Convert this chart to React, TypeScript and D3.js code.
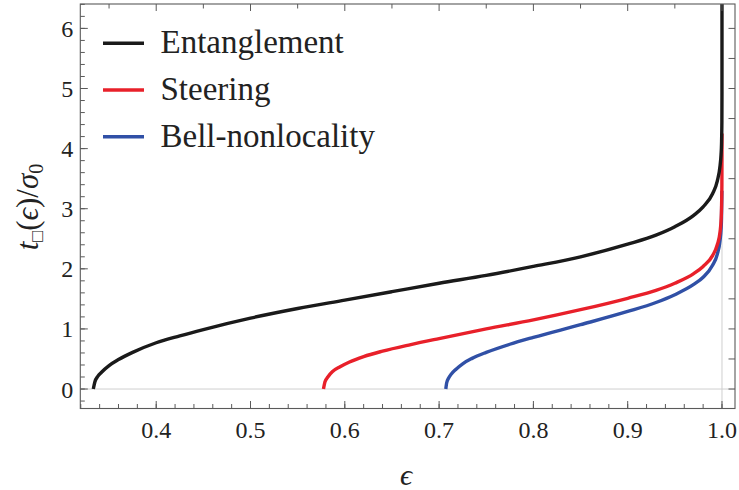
import React, { useEffect, useRef } from 'react';
import * as d3 from 'd3';

// values
const entEps = [0.3333, 0.335, 0.338, 0.342, 0.35, 0.36, 0.375, 0.4, 0.425, 0.45, 0.5, 0.55, 0.6, 0.65, 0.7, 0.75, 0.8, 0.85, 0.9, 0.93, 0.95, 0.97, 0.98, 0.99, 0.995, 0.998, 0.999, 0.9995, 0.9999, 0.99999, 0.999999, 1.0];
const entT = [0, 0.12, 0.21, 0.28, 0.39, 0.49, 0.61, 0.77, 0.885, 0.99, 1.18, 1.34, 1.48, 1.62, 1.76, 1.89, 2.04, 2.2, 2.41, 2.56, 2.7, 2.89, 3.03, 3.25, 3.46, 3.72, 3.9, 4.07, 4.45, 4.94, 5.4, 7.0];

const steerEps = [0.5774, 0.579, 0.582, 0.587, 0.595, 0.605, 0.62, 0.64, 0.67, 0.7, 0.75, 0.8, 0.85, 0.9, 0.93, 0.95, 0.97, 0.98, 0.99, 0.995, 0.998, 0.999, 0.9995, 0.9999, 0.99999, 0.999999];
const steerT = [0, 0.12, 0.2, 0.29, 0.37, 0.45, 0.54, 0.63, 0.74, 0.84, 1.0, 1.15, 1.32, 1.51, 1.64, 1.76, 1.92, 2.04, 2.22, 2.4, 2.62, 2.8, 3.0, 3.4, 3.9, 4.25];

const bellEps = [0.7071, 0.708, 0.71, 0.713, 0.718, 0.725, 0.735, 0.75, 0.775, 0.8, 0.85, 0.9, 0.93, 0.95, 0.97, 0.98, 0.99, 0.995, 0.998, 0.999, 0.9995, 0.9999];
const bellT = [0, 0.1, 0.18, 0.25, 0.33, 0.42, 0.51, 0.61, 0.745, 0.86, 1.07, 1.29, 1.44, 1.57, 1.74, 1.86, 2.06, 2.24, 2.48, 2.65, 2.85, 3.3];

const seriesNames = ['Entanglement', 'Steering', 'Bell-nonlocality'];
const seriesColors = ['#1a1a1a', '#e8202a', '#3050a6'];

const xTickValues = [0.4, 0.5, 0.6, 0.7, 0.8, 0.9, 1.0];
const yTickValues = [0, 1, 2, 3, 4, 5, 6];

const FONT = 'Liberation Serif';
const left = 80.3, right = 735, top = 4, bottom = 408.5;
const axisColor = '#5a5a5a';

const x = d3.scaleLinear().domain([0.3195, 1.0138]).range([left, right]);
const y = d3.scaleLinear().domain([-0.324, 6.406]).range([bottom, top]);

const App = () => {
  const ref = useRef<SVGGElement | null>(null);

  useEffect(() => {
    if (!ref.current) return;
    const g = d3.select(ref.current);
    g.selectAll('*').remove();

    g.append('clipPath').attr('id', 'plotclip')
      .append('rect').attr('x', left).attr('y', top)
      .attr('width', right - left).attr('height', bottom - top);

    // grid lines at t=0 and eps=1
    g.append('line').attr('x1', left).attr('x2', right)
      .attr('y1', y(0)).attr('y2', y(0))
      .attr('stroke', '#cfcfcf').attr('stroke-width', 1);
    g.append('line').attr('x1', x(1)).attr('x2', x(1))
      .attr('y1', top).attr('y2', bottom)
      .attr('stroke', '#cfcfcf').attr('stroke-width', 1);

    const line = d3.line<[number, number]>()
      .x(d => x(d[0])).y(d => y(d[1]))
      .curve(d3.curveMonotoneX);

    const series = [
      { eps: entEps, t: entT, color: seriesColors[0] },
      { eps: steerEps, t: steerT, color: seriesColors[1] },
      { eps: bellEps, t: bellT, color: seriesColors[2] },
    ];

    const curves = g.append('g').attr('clip-path', 'url(#plotclip)');
    // blue under red under black
    [2, 1, 0].forEach(i => {
      const s = series[i];
      const pts = s.eps.map((e, k) => [e, s.t[k]] as [number, number]);
      curves.append('path').attr('d', line(pts))
        .attr('fill', 'none').attr('stroke', s.color)
        .attr('stroke-width', 3.4);
    });

    // ticks, inward on all four sides
    const ticks = g.append('g').attr('stroke', axisColor).attr('stroke-width', 1);
    const vTicks = (vals: number[], y0: number, len: number) =>
      ticks.append('g').selectAll('line').data(vals).enter().append('line')
        .attr('x1', d => x(d)).attr('x2', d => x(d))
        .attr('y1', y0).attr('y2', y0 + len);
    const hTicks = (vals: number[], x0: number, len: number) =>
      ticks.append('g').selectAll('line').data(vals).enter().append('line')
        .attr('y1', d => y(d)).attr('y2', d => y(d))
        .attr('x1', x0).attr('x2', x0 + len);

    vTicks(d3.range(0.32, 1.0101, 0.02), bottom, -4.5);
    vTicks(xTickValues, bottom, -7.5);
    vTicks(d3.range(0.35, 1.0101, 0.1), top, 4.5);
    vTicks(xTickValues, top, 7);
    hTicks(d3.range(-0.2, 6.41, 0.2), left, 4.5);
    hTicks(yTickValues, left, 7.5);
    hTicks(d3.range(0, 6.01, 0.5), right, -6.5);

    g.append('rect').attr('x', left).attr('y', top)
      .attr('width', right - left).attr('height', bottom - top)
      .attr('fill', 'none').attr('stroke', axisColor).attr('stroke-width', 1.1);

    // legend keys
    seriesColors.forEach((c, i) => {
      const ly = 43.3 + i * 46.7;
      g.append('line').attr('x1', 103).attr('x2', 144).attr('y1', ly).attr('y2', ly)
        .attr('stroke', c).attr('stroke-width', 3.4);
    });
  }, []);

  return (
    <svg width={739} height={490} style={{ position: 'absolute', left: 0, top: 0 }}>
      <g ref={ref} />
      <g fontFamily={FONT} fill="#222">
        {xTickValues.map(v => (
          <text key={'x' + v} x={x(v)} y={bottom + 29.5} textAnchor="middle" fontSize={24}>
            {d3.format('.1f')(v)}
          </text>
        ))}
        {yTickValues.map(v => (
          <text key={'y' + v} x={left - 7} y={y(v) + 8.5} textAnchor="end" fontSize={24}>
            {String(v)}
          </text>
        ))}
        {seriesNames.map((name, i) => (
          <text key={name} x={160.5} y={53.3 + i * 46.7} fontSize={33}>{name}</text>
        ))}
        <text x={406} y={485} textAnchor="middle" fontSize={30} fontStyle="italic">{'\u03f5'}</text>
        <text transform="translate(38,207) rotate(-90)" textAnchor="middle" fontSize={31}>
          <tspan fontStyle="italic">t</tspan>
          <tspan dy={5} fontSize={18}>{'\u25a1'}</tspan>
          <tspan dy={-5}>(</tspan>
          <tspan fontStyle="italic">{'\u03f5'}</tspan>
          <tspan>)/</tspan>
          <tspan fontStyle="italic">{'\u03c3'}</tspan>
          <tspan dy={5} fontSize={20}>0</tspan>
        </text>
      </g>
    </svg>
  );
};

export default App;
